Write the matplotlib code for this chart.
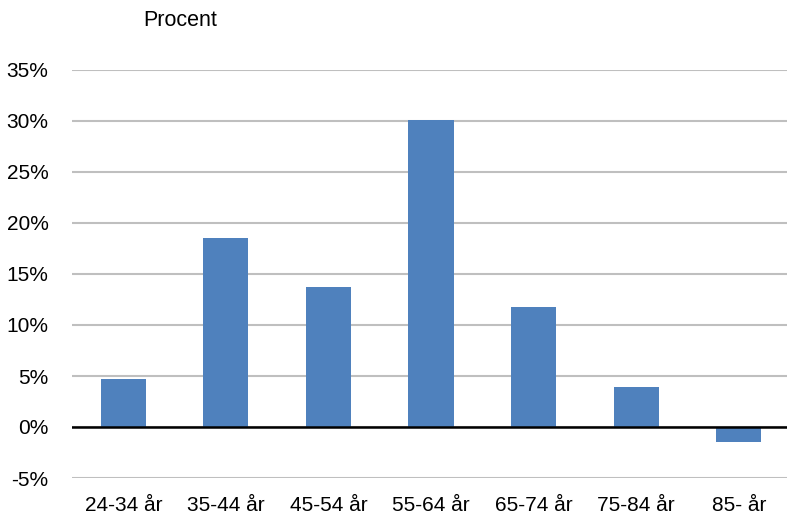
import numpy as np
import matplotlib.pyplot as plt
from matplotlib.ticker import PercentFormatter

plt.rcParams['font.family'] = ['Liberation Sans', 'DejaVu Sans']
plt.rcParams['axes.unicode_minus'] = False

categories = ["24-34 år", "35-44 år", "45-54 år", "55-64 år", "65-74 år", "75-84 år", "85- år"]
values = [4.7, 18.5, 13.7, 30.1, 11.8, 3.9, -1.5]
yticks = [-5, 0, 5, 10, 15, 20, 25, 30, 35]

fig = plt.figure(figsize=(7.87, 5.19), dpi=100)
ax = fig.add_axes([72/787, 1-478/519, 718/787, 408/519])

x = np.arange(len(categories))
ax.bar(x, values, width=0.44, color='#4F81BD', zorder=3)

ax.set_xlim(-0.5, len(categories)-0.5)
ax.set_ylim(-5, 35)
ax.set_yticks(yticks)
ax.yaxis.set_major_formatter(PercentFormatter(decimals=0))
ax.grid(axis='y', color='#BFBFBF', linewidth=1.5, zorder=0)
ax.axhline(0, color='black', linewidth=1.8, zorder=4)

ax.set_xticks(x)
ax.set_xticklabels(categories)
ax.tick_params(axis='both', length=0, labelsize=15, colors='black')
ax.tick_params(axis='x', pad=13)
ax.tick_params(axis='y', pad=17)
for s in ax.spines.values():
  s.set_visible(False)

fig.text(143/787, 1-20/519, "Procent", fontsize=15.5, va='center', ha='left')

plt.savefig("out.png", dpi=100)
